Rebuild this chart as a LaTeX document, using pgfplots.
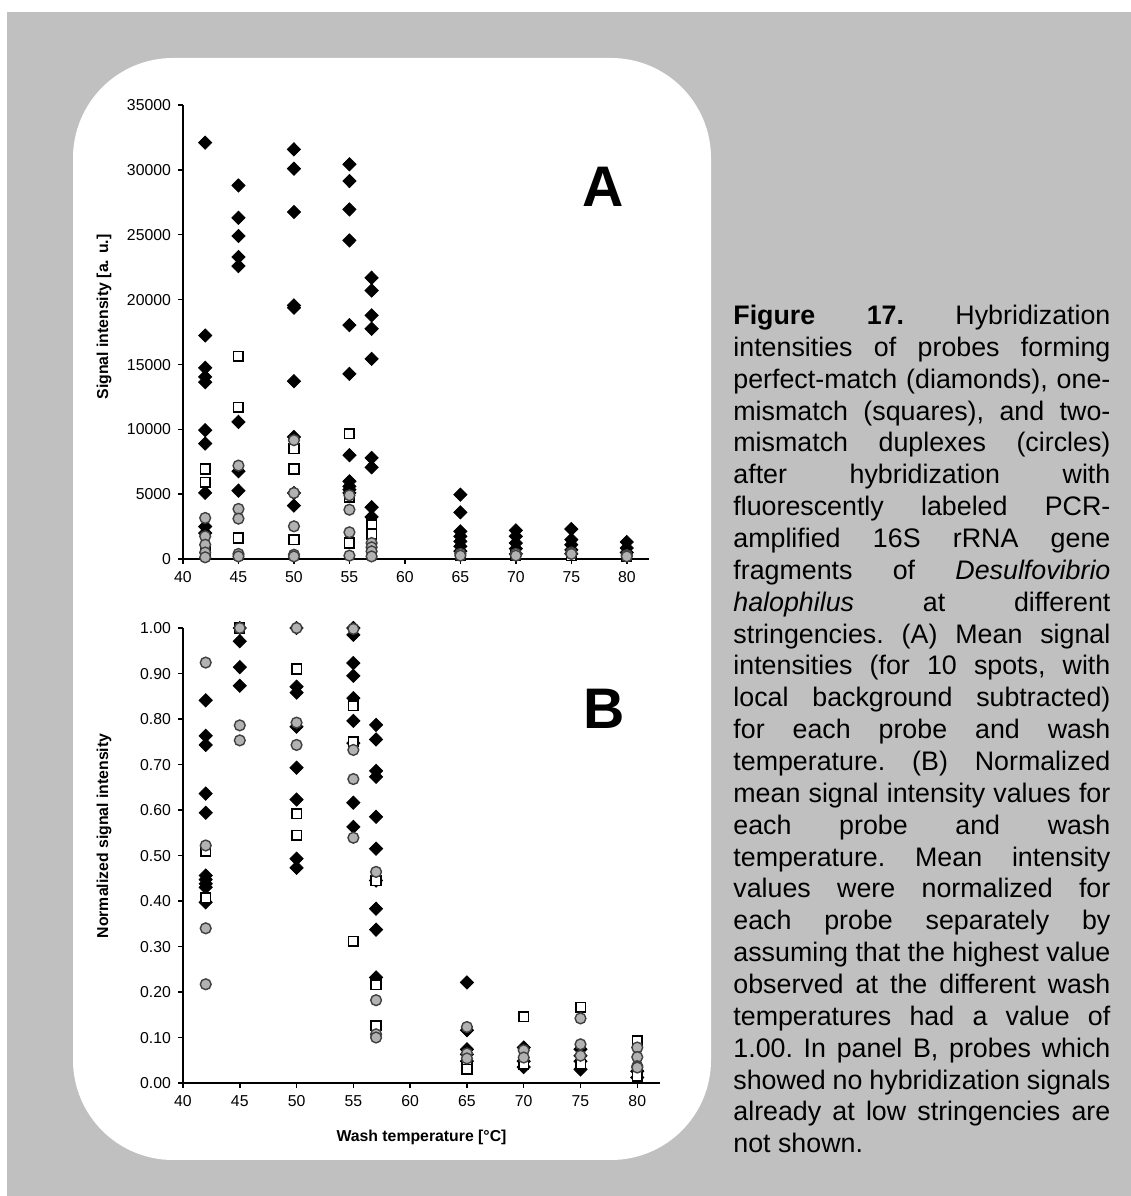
\documentclass[border=0pt]{standalone}
\usepackage{fontspec}
\setmainfont{Liberation Sans}
\usepackage{pgfplots}
\pgfplotsset{compat=1.18}
\definecolor{bggrey}{RGB}{192,192,192}
\definecolor{dotgrey}{RGB}{178,178,178}

\pgfplotsset{
  excel/.style={
    scale only axis,
    axis lines=left,
    axis line style={-, line width=0.75pt},
    every tick/.style={black, line width=0.75pt},
    tick align=outside,
    major tick length=2.5pt,
    xmin=40, xmax=82,
    xtick={40,45,50,55,60,65,70,75,80},
    ymin=0,
    tick label style={font=\fontsize{7.9}{9}\selectfont, text height=5.7pt, text depth=0pt},
    /pgf/number format/assume math mode=true,
    clip=false,
    label style={font=\bfseries\fontsize{7.9}{9}\selectfont},
  },
  pm/.style={only marks, mark=diamond*, mark size=3.3pt,
    mark options={xscale=1.33, fill=black, draw=black}},
  mm1/.style={only marks, mark=square*, mark size=2.4pt,
    mark options={fill=white, draw=black, line width=0.8pt}},
  mm2/.style={only marks, mark=*, mark size=2.7pt,
    mark options={fill=dotgrey, draw=black!75, line width=0.7pt}},
}

\newcommand{\capfont}{\fontsize{13.4}{15.9}\selectfont\frenchspacing}

\begin{document}
\begin{tikzpicture}
\useasboundingbox (0,0) rectangle (565.5pt,598pt);
\fill[white] (0,0) rectangle (565.5pt,598pt);
\fill[bggrey] (3.5pt,0) rectangle (565.5pt,592pt);
\fill[white, rounded corners=50pt] (36.5pt,18pt) rectangle (355.5pt,569pt);

% panel A: raw signal
\begin{axis}[excel,
  at={(91.5pt,318.5pt)}, anchor=south west,
  width=233pt, height=227pt,
  ymax=35000, ytick={0,5000,10000,15000,20000,25000,30000,35000},
  scaled y ticks=false,
  yticklabel style={/pgf/number format/1000 sep={}},
  ylabel={Signal intensity [a. u.]},
  ylabel style={at={(axis description cs:-0.1695,0.533)}, anchor=center},
]
\addplot[pm] coordinates {
  (42,32100) (42,17230) (42,14740) (42,14040) (42,13630) (42,9930) (42,8900)
  (42,5100) (42,2500) (42,2000)
  (45,28800) (45,26300) (45,24900) (45,23280) (45,22580) (45,10570) (45,6760) (45,5270)
  (50,31580) (50,30090) (50,26750) (50,19550) (50,19370) (50,13710) (50,9410)
  (50,5090) (50,4115)
  (55,30430) (55,29140) (55,26950) (55,24560) (55,18030) (55,14270) (55,8000)
  (55,5990) (55,5600) (55,5350) (55,5100)
  (57,21680) (57,20700) (57,18780) (57,17750) (57,15430) (57,7790) (57,7070)
  (57,3990) (57,3240)
  (65,4960) (65,3600) (65,2130) (65,1750) (65,1360) (65,980) (65,600)
  (70,2210) (70,1750) (70,1230) (70,800) (70,400)
  (75,2310) (75,1490) (75,1100) (75,700) (75,400)
  (80,1310) (80,850) (80,500)
};
\addplot[mm1] coordinates {
  (42,6944) (42,5915) (42,700)
  (45,15640) (45,11700) (45,1620)
  (50,8490) (50,6944) (50,1490)
  (55,9670) (55,4780) (55,1230)
  (57,2650) (57,1930)
  (65,300) (70,250) (75,250) (80,200)
};
\addplot[mm2] coordinates {
  (42,3163) (42,1750) (42,1100) (42,500) (42,130)
  (45,7200) (45,3860) (45,3110) (45,390) (45,200)
  (50,9160) (50,5090) (50,2520) (50,330) (50,200)
  (55,4910) (55,3800) (55,2060) (55,260)
  (57,1230) (57,900) (57,590) (57,200)
  (65,400) (65,260)
  (70,400) (70,260)
  (75,500) (75,390)
  (80,300) (80,200)
};
\node[font=\bfseries\fontsize{28.6}{30}\selectfont] at (axis description cs:0.901,0.819) {A};
\end{axis}

% panel B: normalized signal
\begin{axis}[excel,
  at={(91.5pt,56.5pt)}, anchor=south west,
  width=238.5pt, height=227.5pt,
  ymax=1, ytick={0,0.1,0.2,0.3,0.4,0.5,0.6,0.7,0.8,0.9,1},
  yticklabel style={/pgf/number format/.cd, fixed, fixed zerofill, precision=2},
  xlabel={Wash temperature [°C]},
  xlabel style={at={(axis description cs:0.5,0)}, anchor=center, yshift=-27pt},
  ylabel={Normalized signal intensity},
  ylabel style={at={(axis description cs:-0.1656,0.543)}, anchor=center},
]
\addplot[pm] coordinates {
  (42,0.841) (42,0.763) (42,0.743) (42,0.636) (42,0.594) (42,0.456) (42,0.447)
  (42,0.438) (42,0.430) (42,0.397)
  (45,1.000) (45,0.971) (45,0.914) (45,0.873)
  (50,1.000) (50,0.871) (50,0.858) (50,0.783) (50,0.693) (50,0.623) (50,0.493) (50,0.473)
  (55,1.000) (55,0.985) (55,0.923) (55,0.895) (55,0.846) (55,0.796) (55,0.747)
  (55,0.616) (55,0.563)
  (57,0.787) (57,0.755) (57,0.686) (57,0.673) (57,0.585) (57,0.515) (57,0.445)
  (57,0.383) (57,0.337) (57,0.232)
  (65,0.221) (65,0.116) (65,0.074) (65,0.063) (65,0.048)
  (70,0.078) (70,0.048) (70,0.035)
  (75,0.074) (75,0.060) (75,0.048) (75,0.030)
  (80,0.026) (80,0.012)
};
\addplot[mm1] coordinates {
  (42,0.510) (42,0.407)
  (45,1.000)
  (50,0.910) (50,0.592) (50,0.544)
  (55,0.829) (55,0.750) (55,0.311)
  (57,0.445) (57,0.216) (57,0.126)
  (65,0.037) (65,0.030)
  (70,0.146) (70,0.041)
  (75,0.166) (75,0.041)
  (80,0.093) (80,0.023) (80,0.015)
};
\addplot[mm2] coordinates {
  (42,0.924) (42,0.522) (42,0.340) (42,0.217)
  (45,1.000) (45,0.786) (45,0.753)
  (50,1.000) (50,0.792) (50,0.743)
  (55,0.998) (55,0.732) (55,0.668) (55,0.539)
  (57,0.464) (57,0.182) (57,0.107) (57,0.100)
  (65,0.123) (65,0.065) (65,0.054)
  (70,0.072) (70,0.056)
  (75,0.142) (75,0.085) (75,0.060)
  (80,0.078) (80,0.057) (80,0.037) (80,0.034)
};
\node[font=\bfseries\fontsize{28.6}{30}\selectfont] at (axis description cs:0.883,0.822) {B};
\end{axis}

% caption, one node per printed line
\foreach \t [count=\i from 0] in {
  {\textbf{Figure 17.} Hybridization},
  {intensities of probes forming},
  {perfect-match (diamonds), one-},
  {mismatch (squares), and two-},
  {mismatch duplexes (circles)},
  {after hybridization with},
  {fluorescently labeled PCR-},
  {amplified 16S rRNA gene},
  {fragments of \textit{Desulfovibrio}},
  {\textit{halophilus} at different},
  {stringencies. (A) Mean signal},
  {intensities (for 10 spots, with},
  {local background subtracted)},
  {for each probe and wash},
  {temperature. (B) Normalized},
  {mean signal intensity values for},
  {each probe and wash},
  {temperature. Mean intensity},
  {values were normalized for},
  {each probe separately by},
  {assuming that the highest value},
  {observed at the different wash},
  {temperatures had a value of},
  {1.00. In panel B, probes which},
  {showed no hybridization signals},
  {already at low stringencies are}}
{
  \node[anchor=base west, inner sep=0pt, font=\capfont]
    at (366.5pt, {435.75pt-\i*15.93pt}) {\makebox[188.5pt][s]{\t}};
}
\node[anchor=base west, inner sep=0pt, font=\capfont]
  at (366.5pt, {435.75pt-26*15.93pt}) {not shown.};
\end{tikzpicture}
\end{document}
